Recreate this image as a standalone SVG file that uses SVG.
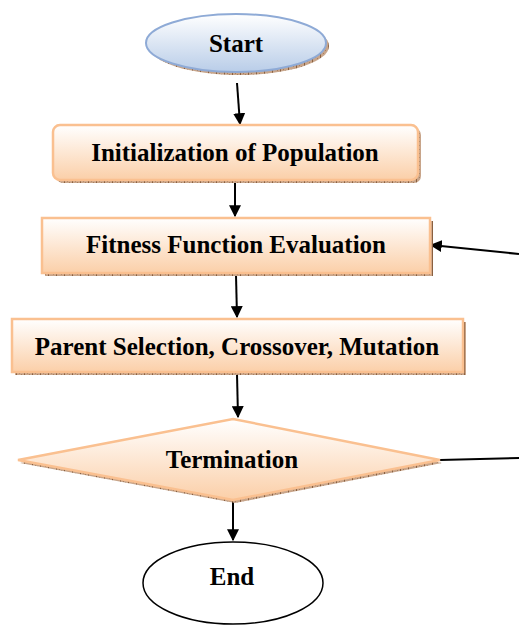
<svg xmlns="http://www.w3.org/2000/svg" width="519" height="626" viewBox="0 0 519 626">
<defs>
<linearGradient id="gOr" x1="0" y1="0" x2="0" y2="1">
<stop offset="0" stop-color="#ffffff"/>
<stop offset="1" stop-color="#fbcfa8"/>
</linearGradient>
<linearGradient id="gBl" x1="0" y1="0" x2="0" y2="1">
<stop offset="0" stop-color="#ffffff"/>
<stop offset="1" stop-color="#b9cde8"/>
</linearGradient>
<pattern id="tex" width="8" height="4" patternUnits="userSpaceOnUse">
<rect width="8" height="4" fill="#c8a58a"/>
<rect x="0" y="0" width="1" height="4" fill="#8a6040"/>
<rect x="3" y="1" width="1" height="1" fill="#a88060"/>
<rect x="5" y="2" width="1" height="1" fill="#a88060"/>
</pattern>
<marker id="ah" viewBox="0 0 10 10" refX="9" refY="5" markerWidth="12" markerHeight="12" markerUnits="userSpaceOnUse" orient="auto">
<path d="M0,0 L10,5 L0,10 z" fill="#000"/>
</marker>
<style>
.box{fill:url(#gOr);stroke:#fac090;stroke-width:2.5}
.sh{fill:url(#tex)}
.t{font-family:"Liberation Serif","Times New Roman",serif;font-weight:bold;font-size:25px;fill:#000;text-anchor:middle;dominant-baseline:central}
.c{stroke:#000;stroke-width:2;fill:none;marker-end:url(#ah)}
.cl{stroke:#000;stroke-width:2;fill:none}
</style>
</defs>
<g id="connectors">
<line class="c" x1="237" y1="83" x2="240" y2="124"/>
<line class="c" x1="235" y1="182" x2="235" y2="216"/>
<line class="c" x1="236" y1="275" x2="237" y2="317"/>
<line class="c" x1="237" y1="374" x2="238" y2="417"/>
<line class="c" x1="233" y1="501" x2="233" y2="540"/>
<line class="cl" x1="440" y1="460" x2="519" y2="458"/>
<line class="c" x1="519" y1="254" x2="431" y2="245"/>
</g>
<g id="start">
<ellipse cx="239" cy="46" rx="90" ry="29" fill="url(#tex)"/>
<ellipse cx="236" cy="43" rx="90" ry="29" fill="url(#gBl)" stroke="#8eaad6" stroke-width="2"/>
<text class="t" x="236" y="43">Start</text>
</g>
<g id="init">
<rect class="sh" x="56" y="128" width="365" height="55" rx="7"/>
<rect class="box" x="53" y="125" width="365" height="55" rx="7"/>
<text class="t" x="235" y="152">Initialization of Population</text>
</g>
<g id="fitness">
<rect class="sh" x="45" y="221" width="388" height="55"/>
<rect class="box" x="42" y="218" width="388" height="55"/>
<text class="t" x="236" y="244">Fitness Function Evaluation</text>
</g>
<g id="parent">
<rect class="sh" x="15" y="322" width="451" height="53"/>
<rect class="box" x="12" y="319" width="451" height="53"/>
<text class="t" x="237" y="346">Parent Selection, Crossover, Mutation</text>
</g>
<g id="termination">
<polygon class="sh" points="235,422 442,463 235,503 20,463"/>
<polygon class="box" points="233,419 440,460 233,500 18,460"/>
<text class="t" x="232" y="459">Termination</text>
</g>
<g id="end">
<ellipse cx="233" cy="583" rx="90" ry="41" fill="#fff" stroke="#000" stroke-width="1.5"/>
<text class="t" x="232" y="576">End</text>
</g>
</svg>
